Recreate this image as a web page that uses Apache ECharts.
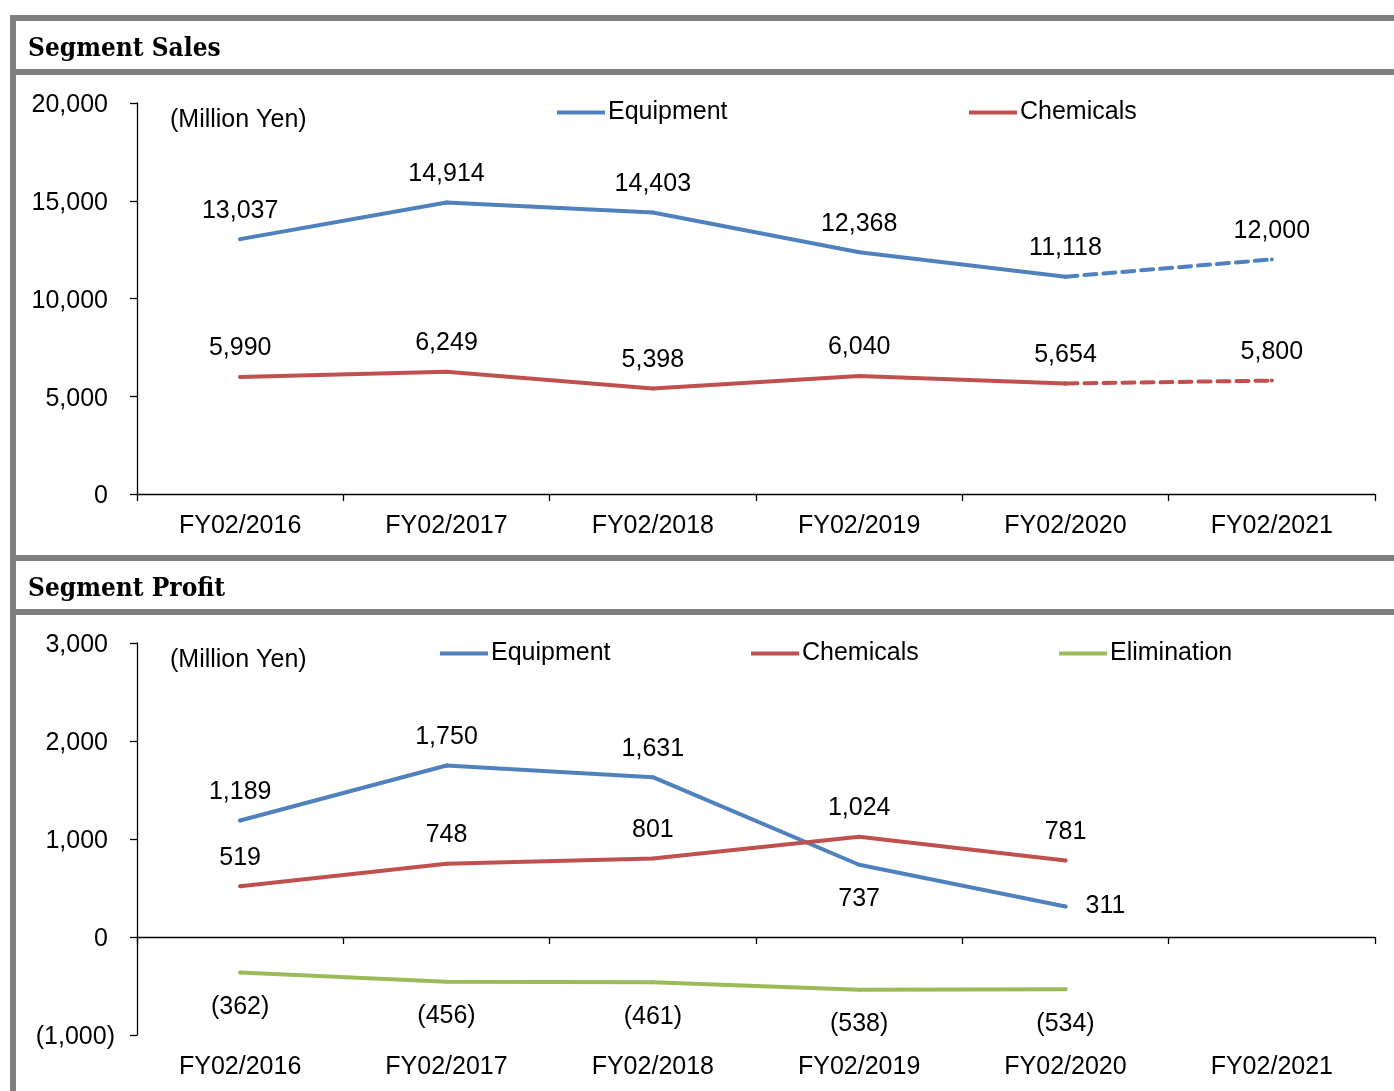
<!DOCTYPE html>
<html>
<head>
<meta charset="utf-8">
<script src="https://cdn.jsdelivr.net/npm/echarts@6/dist/echarts.min.js"></script>
<style>
  html, body { margin: 0; padding: 0; background: #fff; }
  #chart { width: 1394px; height: 1091px; }
</style>
</head>
<body>
<div id="chart"></div>
<script>
// Fiscal years on the category axis
const categories = ['FY02/2016', 'FY02/2017', 'FY02/2018', 'FY02/2019', 'FY02/2020', 'FY02/2021'];

// Segment sales (million yen); the last year is a forecast
const salesEquipment = [13037, 14914, 14403, 12368, 11118, 12000];
const salesChemicals = [5990, 6249, 5398, 6040, 5654, 5800];
const forecastStart = 5; // index of first forecast year

// Segment profit (million yen)
const profitEquipment = [1189, 1750, 1631, 737, 311];
const profitChemicals = [519, 748, 801, 1024, 781];
const profitElimination = [-362, -456, -461, -538, -534];

// Axis tick settings
const salesAxis = { min: 0, max: 20000, interval: 5000 };
const profitAxis = { min: -1000, max: 3000, interval: 1000 };

const BLUE = '#4F81BD', RED = '#C0504D', GREEN = '#9BBB59', GREY = '#808080';
const FONT = 'Liberation Sans, Arial, sans-serif';
const FS = 25;

function fmt(v) {
  const s = Math.abs(v).toLocaleString('en-US');
  return v < 0 ? '(' + s + ')' : s;
}

// Accounting style: positive numbers leave room for the closing parenthesis
function axisFmt(v) {
  return v < 0 ? '{neg|' + fmt(v) + '}' : '{pos|' + fmt(v) + '}';
}

const labelBase = {
  show: true, fontSize: FS, color: '#000', fontFamily: FONT,
  formatter: p => fmt(p.value)
};

function lineSeries(name, data, color, opts) {
  opts = opts || {};
  return Object.assign({
    type: 'line', name: name, data: data,
    symbol: 'circle', symbolSize: 4, showSymbol: true,
    itemStyle: { color: color },
    lineStyle: { color: color, width: 4, cap: 'round', join: 'round' },
    label: Object.assign({}, labelBase, { position: 'top', distance: 14 }),
    emphasis: { disabled: true },
    silent: true, connectNulls: false, animation: false
  }, opts);
}

// Split a sales series into actual (solid) and forecast (dashed) parts
function actualPart(values) {
  return values.map((v, i) => (i < forecastStart ? v : null));
}
function forecastPart(values) {
  return values.map((v, i) => (i >= forecastStart - 1 ? v : null));
}
function forecastSeries(name, values, color) {
  const data = forecastPart(values).map((v, i) => ({
    value: v,
    label: { show: i >= forecastStart }
  }));
  return lineSeries(name, data, color, {
    lineStyle: { color: color, width: 4, type: [12, 7], cap: 'round' }
  });
}

// Per-point label placement for profit lines
function withPositions(values, positions) {
  return values.map((v, i) => {
    const pos = positions[i];
    if (!pos) return v;
    const lbl = { position: pos, distance: pos === 'bottom' ? 20 : 18 };
    if (pos === 'right') lbl.padding = [8, 0, 0, 0];
    return { value: v, label: lbl };
  });
}

const yAxisCommon = {
  type: 'value',
  axisLine: { show: true, lineStyle: { color: '#000', width: 1.3 } },
  axisTick: { show: true, length: 7, lineStyle: { color: '#000', width: 1.3 } },
  splitLine: { show: false },
  axisLabel: {
    fontSize: FS, color: '#000', fontFamily: FONT, margin: 22, formatter: axisFmt,
    rich: {
      pos: { fontSize: FS, fontFamily: FONT, color: '#000', padding: [5, 7, 0, 0] },
      neg: { fontSize: FS, fontFamily: FONT, color: '#000', padding: [5, 0, 0, 0] }
    }
  }
};

const xLabelStyle = { fontSize: FS, color: '#000', fontFamily: FONT, margin: 20 };

function legendItem(name, left, top) {
  return {
    data: [name], left: left, top: top,
    icon: 'rect', itemWidth: 48, itemHeight: 4,
    selectedMode: false,
    textStyle: { fontSize: FS, color: '#000', fontFamily: FONT, padding: [0, 0, 0, -2] }
  };
}

const option = {
  animation: false,
  backgroundColor: '#fff',
  grid: [
    { left: 137, right: 19, top: 103, height: 391 },
    { left: 137, right: 19, top: 643, height: 392 }
  ],
  xAxis: [
    {
      gridIndex: 0, type: 'category', data: categories, boundaryGap: true,
      axisLine: { show: true, lineStyle: { color: '#000', width: 1.3 } },
      axisTick: { show: true, length: 7, lineStyle: { color: '#000', width: 1.3 } },
      axisLabel: xLabelStyle
    },
    {
      // labels along the bottom of the profit panel
      gridIndex: 1, type: 'category', data: categories, boundaryGap: true, position: 'bottom',
      axisLine: { show: false, onZero: false }, axisTick: { show: false },
      axisLabel: xLabelStyle
    },
    {
      // zero line with ticks for the profit panel
      gridIndex: 1, type: 'category', data: categories, boundaryGap: true, position: 'bottom',
      axisLine: { show: true, onZero: true, lineStyle: { color: '#000', width: 1.3 } },
      axisTick: { show: true, length: 7, lineStyle: { color: '#000', width: 1.3 } },
      axisLabel: { show: false }
    }
  ],
  yAxis: [
    Object.assign({ gridIndex: 0 }, yAxisCommon, salesAxis),
    Object.assign({ gridIndex: 1 }, yAxisCommon, profitAxis)
  ],
  legend: [
    legendItem('Equipment', 552, 95),
    legendItem('Chemicals', 964, 95),
    legendItem('Equipment ', 435, 636),
    legendItem('Chemicals ', 746, 636),
    legendItem('Elimination', 1054, 636)
  ],
  series: [
    lineSeries('Equipment', actualPart(salesEquipment), BLUE, { xAxisIndex: 0, yAxisIndex: 0 }),
    lineSeries('Chemicals', actualPart(salesChemicals), RED, { xAxisIndex: 0, yAxisIndex: 0 }),
    Object.assign(forecastSeries('Equipment forecast', salesEquipment, BLUE), { xAxisIndex: 0, yAxisIndex: 0 }),
    Object.assign(forecastSeries('Chemicals forecast', salesChemicals, RED), { xAxisIndex: 0, yAxisIndex: 0 }),

    lineSeries('Equipment ', withPositions(profitEquipment, [null, null, null, 'bottom', 'right']), BLUE,
      { xAxisIndex: 1, yAxisIndex: 1 }),
    lineSeries('Chemicals ', profitChemicals, RED, { xAxisIndex: 1, yAxisIndex: 1 }),
    lineSeries('Elimination', profitElimination, GREEN, {
      xAxisIndex: 1, yAxisIndex: 1,
      label: Object.assign({}, labelBase, { position: 'bottom', distance: 20 })
    })
  ],
  graphic: [
    // panel frame
    { type: 'rect', shape: { x: 10, y: 15, width: 1384, height: 6 }, style: { fill: GREY }, silent: true },
    { type: 'rect', shape: { x: 10, y: 15, width: 6, height: 1076 }, style: { fill: GREY }, silent: true },
    { type: 'rect', shape: { x: 10, y: 69, width: 1384, height: 6 }, style: { fill: GREY }, silent: true },
    { type: 'rect', shape: { x: 10, y: 555, width: 1384, height: 6 }, style: { fill: GREY }, silent: true },
    { type: 'rect', shape: { x: 10, y: 609, width: 1384, height: 6 }, style: { fill: GREY }, silent: true },
    // panel titles
    { type: 'text', left: 28, top: 36, silent: true,
      style: { text: 'Segment Sales', fontSize: 26, fontWeight: 'bold', fontFamily: 'DejaVu Serif Condensed, DejaVu Serif, serif', fill: '#000' } },
    { type: 'text', left: 28, top: 576, silent: true,
      style: { text: 'Segment Profit', fontSize: 26, fontWeight: 'bold', fontFamily: 'DejaVu Serif Condensed, DejaVu Serif, serif', fill: '#000' } },
    // unit notes
    { type: 'text', left: 170, top: 108, silent: true,
      style: { text: '(Million Yen)', fontSize: FS, fontFamily: FONT, fill: '#000' } },
    { type: 'text', left: 170, top: 648, silent: true,
      style: { text: '(Million Yen)', fontSize: FS, fontFamily: FONT, fill: '#000' } }
  ]
};

const chart = echarts.init(document.getElementById('chart'), null, { renderer: 'canvas' });
chart.setOption(option);
</script>
</body>
</html>
